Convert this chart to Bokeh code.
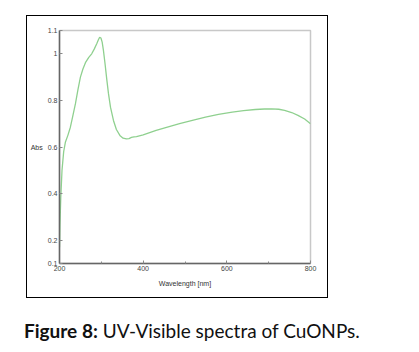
from bokeh.plotting import figure
from bokeh.models import Range1d, FixedTicker, LinearAxis, Div
from bokeh.layouts import column
from bokeh.embed import file_html
from bokeh.resources import INLINE

wavelength = [200, 201, 203, 206, 210, 214, 220, 226, 232, 238, 244, 250, 256, 262, 270,
              277, 283, 289, 293, 296, 299, 302, 305, 309, 313, 317, 322, 329, 336, 345,
              352, 360, 366, 372, 378, 384, 400, 431, 460, 487, 520, 549, 580, 613, 640,
              668, 690, 707, 724, 738, 755, 770, 786, 800]
absorbance = [0.17, 0.26, 0.38, 0.50, 0.58, 0.62, 0.65, 0.685, 0.735, 0.785, 0.845, 0.90,
              0.935, 0.962, 0.985, 1.0, 1.02, 1.043, 1.06, 1.071, 1.068, 1.05, 1.015, 0.955,
              0.89, 0.83, 0.77, 0.714, 0.675, 0.648, 0.638, 0.635, 0.636, 0.641, 0.643,
              0.645, 0.652, 0.671, 0.686, 0.70, 0.715, 0.728, 0.74, 0.75, 0.756, 0.761,
              0.763, 0.764, 0.762, 0.757, 0.748, 0.736, 0.72, 0.70]
x_ticks = [200, 400, 600, 800]
x_minor = [300, 500, 700]
y_ticks = [0.1, 0.2, 0.4, 0.6, 0.8, 1.0, 1.1]
y_labels = {0.1: "0.1", 0.2: "0.2", 0.4: "0.4", 0.6: "0.6", 0.8: "0.8", 1.0: "1", 1.1: "1.1"}
caption_bold = "Figure 8:"
caption_text = "UV-Visible spectra of CuONPs."

p = figure(width=300, height=281, output_backend="svg", toolbar_location=None,
           x_range=Range1d(200, 800), y_range=Range1d(0.1, 1.1),
           min_border_left=30, min_border_right=17, min_border_top=14,
           min_border_bottom=34,
           x_axis_location=None, y_axis_location=None, margin=0)
p.grid.visible = False
p.outline_line_color = "#c8c8c8"
p.outline_line_width = 1.5

xa = LinearAxis(ticker=FixedTicker(ticks=x_ticks, minor_ticks=x_minor))
ya = LinearAxis(ticker=FixedTicker(ticks=y_ticks))
ya.major_label_overrides = {k: v for k, v in y_labels.items()}
for ax in (xa, ya):
    ax.axis_line_color = "#666666"
    ax.axis_line_width = 1.5
    ax.major_tick_in = 3
    ax.major_tick_out = 0
    ax.minor_tick_in = 2
    ax.minor_tick_out = 0
    ax.major_tick_line_color = "#888888"
    ax.minor_tick_line_color = "#888888"
    ax.major_label_text_font = "Liberation Sans"
    ax.major_label_text_font_size = "7px"
    ax.major_label_text_color = "#444444"
    ax.axis_label_text_font = "Liberation Sans"
    ax.axis_label_text_font_size = "7px"
    ax.axis_label_text_font_style = "normal"
    ax.axis_label_text_color = "#333333"
    ax.major_label_standoff = 2
xa.axis_label = "Wavelength [nm]"
xa.axis_label_standoff = 6
ya.axis_label = "Abs"
ya.axis_label_orientation = "horizontal"
ya.axis_label_standoff = 2
p.add_layout(xa, "below")
p.add_layout(ya, "left")

p.line(wavelength, absorbance, line_color="#8fd08f", line_width=1.3)

boxed = column(p, margin=(15, 0, 0, 26),
               styles={"border": "1.5px solid black"})

cap = Div(text=f"<b>{caption_bold}</b> {caption_text}", margin=(19, 0, 0, 24),
          styles={"font-family": "Lato", "font-size": "19px", "color": "#111111",
                  "white-space": "nowrap"})

layout = column(boxed, cap, margin=0)
open("out.html", "w").write(file_html(layout, INLINE))
